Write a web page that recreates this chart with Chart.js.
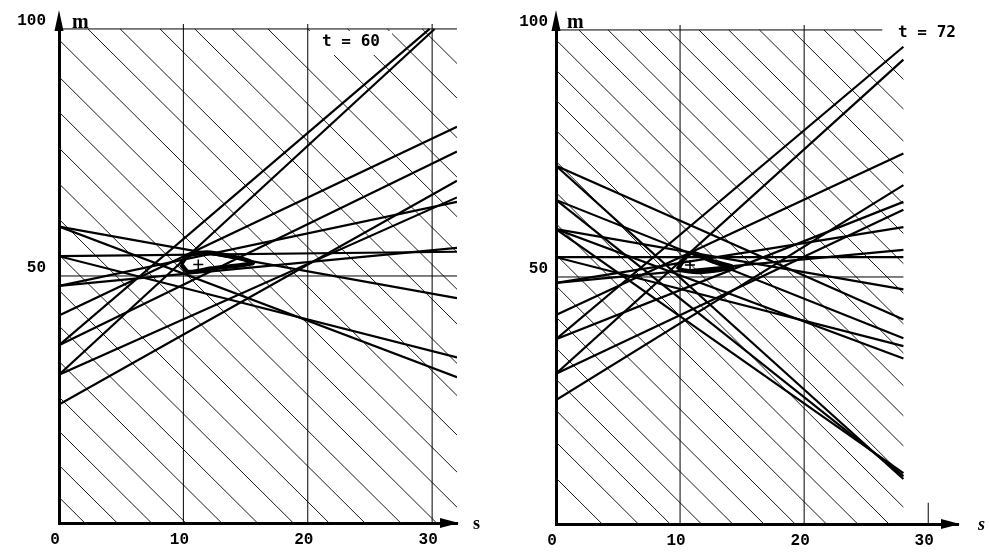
<!DOCTYPE html>
<html lang="en">
<head>
<meta charset="UTF-8" />
<title>m / s diagram, t = 60 and t = 72</title>
<script src="https://cdn.jsdelivr.net/npm/chart.js"></script>
<style>
  html, body { margin: 0; background: #fff; overflow: hidden; }
  .panels { display: flex; width: 990px; height: 552px; }
  canvas { display: block; }
</style>
</head>
<body>
<div class="panels">
  <canvas id="panelA" width="495" height="552"></canvas>
  <canvas id="panelB" width="495" height="552"></canvas>
</div>
<script>
// tick labels
const sTicks = [0, 10, 20, 30];
const mTicks = [50, 100];

// slope of the thin hatching (dm/ds)
const hatchSlope = -2.5;

// ---- t = 60 ----
const aStartM = [36, 30, 42, 36, 24, 30, 48, 48, 54, 54, 60, 60];
const aEndS   = [29.8, 30.2, 32, 32, 32, 32, 32, 32, 32, 32, 32, 32];
const aEndM   = [100, 100, 80.2, 75.2, 69.3, 65.9, 65, 55.7, 54.9, 33.5, 29.5, 45.5];
const aHatch  = [5.2, 11.7, 18.6, 25.5, 32.7, 39.9, 47.1, 54.3, 61.5, 68.7, 75.9, 83.2, 90.3, 97.8,
                 105.8, 112.3, 120.3, 127.3, 134.8, 142, 150, 158, 166, 173];
const aLensS  = [9.8, 10.4, 12.2, 15.6, 12.2, 10.4, 9.8];
const aLensM  = [52.4, 54.2, 54.7, 52.7, 51.5, 50.8, 52.4];
const aMark   = [11.2, 52.3];
const aGridS  = [10, 20, 30];

// ---- t = 72 ----
const bStartM = [37.4, 30.4, 42.3, 25.1, 30.4, 37.4, 48.8, 48.8, 54, 54, 59.7, 59.7, 72.5, 65.6, 72.5, 65.6, 59.7];
const bEndS   = [28, 28, 28, 28, 28, 28, 28, 28, 28, 28, 28, 28, 28, 28, 28, 28, 28];
const bEndM   = [96.6, 94, 75, 68.6, 63.6, 65.2, 60.1, 55.5, 54, 36, 33.5, 47.5, 41.4, 37.6, 9.1, 9.7, 10.3];
const bHatch  = [9.3, 16.6, 23, 29.3, 35.6, 41.9, 48.2, 54.5, 60.8, 67.1, 73.4, 79.7, 85.8, 91.9, 98,
                 104.6, 110.5, 116.7, 122.7, 128.8, 134.8, 141, 147.5, 154, 160];
const bLensS  = [9.8, 10.4, 11, 12.6, 14.2, 11.6, 9.8];
const bLensM  = [51.5, 53.9, 54.9, 53.2, 52, 51, 51.5];
const bMark   = [10.8, 52.4];
const bGridS  = [10, 20];

function seg(x1, y1, x2, y2, width) {
  return {
    data: [{ x: x1, y: y1 }, { x: x2, y: y2 }],
    showLine: true, borderColor: '#000', borderWidth: width,
    pointRadius: 0, fill: false
  };
}

function hatchSeg(c, sMax) {
  const p1 = c <= 100 ? { x: 0, y: c } : { x: (c - 100) / -hatchSlope, y: 100 };
  const mEnd = c + hatchSlope * sMax;
  const p2 = mEnd >= 0 ? { x: sMax, y: mEnd } : { x: c / -hatchSlope, y: 0 };
  return {
    data: [p1, p2], showLine: true, borderColor: '#1a1a1a', borderWidth: 1,
    pointRadius: 0, fill: false
  };
}

const decor = {
  id: 'decor',
  afterDatasetDraw(chart, args, o) {
    if (o.box && args.index === o.boxAfter) {
      chart.ctx.save();
      chart.ctx.fillStyle = '#fff';
      chart.ctx.fillRect(o.box[0], o.box[1], o.box[2], o.box[3]);
      chart.ctx.restore();
    }
  },
  afterDraw(chart, args, o) {
    const ctx = chart.ctx, a = chart.chartArea;
    ctx.save();
    ctx.fillStyle = '#000';
    ctx.strokeStyle = '#000';
    ctx.lineWidth = 3;
    ctx.beginPath();
    ctx.moveTo(a.left, a.top + 2);
    ctx.lineTo(a.left, 20);
    ctx.stroke();
    ctx.beginPath();
    ctx.moveTo(a.left, 10);
    ctx.lineTo(a.left - 4.5, 31);
    ctx.lineTo(a.left + 4.5, 31);
    ctx.closePath();
    ctx.fill();
    ctx.beginPath();
    ctx.moveTo(a.right + 2, a.bottom);
    ctx.lineTo(a.right - 17, a.bottom - 5);
    ctx.lineTo(a.right - 17, a.bottom + 5);
    ctx.closePath();
    ctx.fill();

    ctx.textAlign = 'left';
    ctx.textBaseline = 'alphabetic';
    ctx.font = 'bold 20px "Liberation Serif"';
    ctx.fillText('m', a.left + o.mDx, 28);
    ctx.font = o.sFont;
    ctx.fillText('s', a.right + o.sDx, a.bottom + 6);

    ctx.textAlign = 'center';
    ctx.textBaseline = 'middle';
    ctx.font = 'bold 16px "DejaVu Sans Mono"';
    ctx.fillText(o.title, o.titleX, o.titleY);
    ctx.restore();
  }
};

function buildPanel(id, p) {
  const ds = [];
  const lensPts = p.lensS.map((s, i) => ({ x: s, y: p.lensM[i] }));
  ds.push({ data: lensPts, showLine: true, borderColor: '#000', borderWidth: 4.5,
            tension: 0.25, pointRadius: 0, fill: false, borderJoinStyle: 'round' });
  ds.push({ data: [{ x: p.mark[0], y: p.mark[1] }], pointStyle: 'cross', pointRadius: 5,
            borderColor: '#000', borderWidth: 1.5, backgroundColor: '#000' });
  p.startM.forEach((m, i) => ds.push(seg(0, m, p.endS[i], p.endM[i], 2.2)));
  // frame lines: top at m = 100, m = 50, vertical s lines
  ds.push(seg(0, 100, p.topEnd, 100, 1));
  ds.push(seg(0, 50, p.sMax, 50, 1));
  p.gridS.forEach(s => ds.push(seg(s, 0, s, 101, 1)));
  if (p.shortTick) ds.push(seg(p.shortTick, 0, p.shortTick, 4.3, 1));
  const firstHatch = ds.length;
  p.hatch.forEach(c => ds.push(hatchSeg(c, p.sMax)));

  const tickFont = { family: 'Liberation Mono', weight: 'bold', size: 16 };
  new Chart(document.getElementById(id), {
    type: 'scatter',
    data: { datasets: ds },
    options: {
      responsive: false,
      animation: false,
      layout: { padding: { top: p.padTop, right: p.padRight, left: 0, bottom: 0 } },
      plugins: {
        legend: { display: false },
        tooltip: { enabled: false },
        decor: {
          title: p.title, titleX: p.titleX, titleY: p.titleY,
          box: p.box, boxAfter: firstHatch,
          mDx: p.mDx, sDx: p.sDx, sFont: p.sFont
        }
      },
      scales: {
        x: {
          type: 'linear', min: 0, max: p.xMax,
          afterBuildTicks: sc => { sc.ticks = sTicks.map(v => ({ value: v })); },
          afterFit: sc => { sc.height = p.xH; },
          grid: { display: false, drawTicks: false },
          border: { display: true, color: '#000', width: 3 },
          ticks: { color: '#000', font: tickFont, padding: 7, labelOffset: -4,
                   maxRotation: 0, autoSkip: false }
        },
        y: {
          type: 'linear', min: 0, max: 101,
          afterBuildTicks: sc => { sc.ticks = mTicks.map(v => ({ value: v })); },
          afterFit: sc => { sc.width = p.yW; },
          grid: { display: false, drawTicks: false },
          border: { display: true, color: '#000', width: 3 },
          ticks: { color: '#000', font: tickFont, padding: p.yPad, labelOffset: -8, autoSkip: false }
        }
      }
    },
    plugins: [decor]
  });
}

buildPanel('panelA', {
  startM: aStartM, endS: aEndS, endM: aEndM, hatch: aHatch,
  lensS: aLensS, lensM: aLensM, mark: aMark, gridS: aGridS,
  sMax: 32, xMax: 32, topEnd: 32,
  padTop: 24, padRight: 38, xH: 29, yW: 59, yPad: 13,
  title: 't = 60', titleX: 351, titleY: 42, box: [308, 31, 84, 24],
  mDx: 13, sDx: 16, sFont: 'bold 18px "Liberation Serif"'
});

buildPanel('panelB', {
  startM: bStartM, endS: bEndS, endM: bEndM, hatch: bHatch,
  lensS: bLensS, lensM: bLensM, mark: bMark, gridS: bGridS, shortTick: 30,
  sMax: 28, xMax: 32.4, topEnd: 26.3,
  padTop: 25, padRight: 32, xH: 28, yW: 61, yPad: 8,
  title: 't = 72', titleX: 432, titleY: 33, box: null,
  mDx: 11, sDx: 20, sFont: 'bold italic 18px "Liberation Serif"'
});
</script>
</body>
</html>
